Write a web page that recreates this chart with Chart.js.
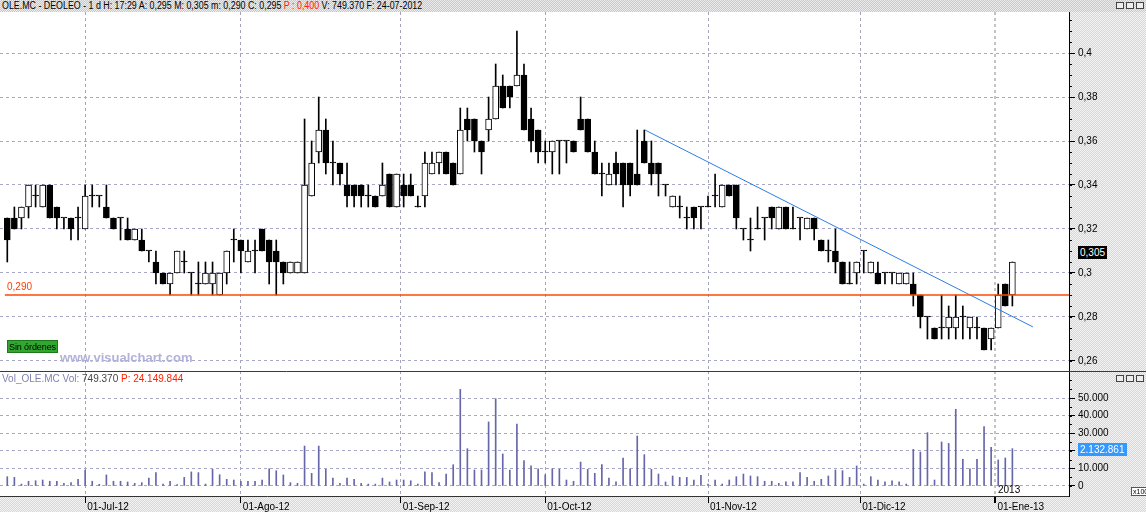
<!DOCTYPE html>
<html>
<head>
<meta charset="utf-8">
<script src="https://cdn.jsdelivr.net/npm/chart.js@4.4.1/dist/chart.umd.min.js"></script>
<style>
  body{margin:0;width:1146px;height:512px;overflow:hidden;position:relative;
    font-family:'Liberation Sans',Arial,sans-serif;font-size:10px;color:#000;
    background:repeating-conic-gradient(#d6d6d6 0 25%,#f4f4f4 0 50%) 0 0/2px 2px;}
  .abs{position:absolute;white-space:nowrap}
  #hdrbg{left:0;top:0;width:1146px;height:12px;
    background:repeating-conic-gradient(#c8c8c8 0 25%,#ececec 0 50%) 0 0/2px 2px;}
  #hdr{left:2px;top:0;height:12px;line-height:12px;transform:scaleX(0.885);transform-origin:0 0}
  .btns{display:flex;gap:2px}
  .btns span{display:block;width:8px;height:7px;border:1px solid #444;background:#eee;box-sizing:border-box}
  .tag{color:#fff;padding:0 2px;height:13px;line-height:13px}
</style>
</head>
<body>
<div id="hdrbg" class="abs"></div>
<div id="hdr" class="abs">OLE.MC - DEOLEO - 1 d H: 17:29 A: 0,295 M: 0,305 m: 0,290 C: 0,295 <span style="color:#ff2000">P : 0,400</span> V: 749.370 F: 24-07-2012</div>
<div class="abs btns" style="left:1116px;top:2px"><span></span><span></span><span></span></div>

<div class="abs" style="left:0;top:12px;width:1146px;height:359px"><canvas id="cPrice"></canvas></div>
<div class="abs" style="left:0;top:371px;width:1146px;height:141px"><canvas id="cVol"></canvas></div>

<div class="abs" style="left:7px;top:282px;color:#ff4000;line-height:10px">0,290</div>
<div class="abs" style="left:7px;top:340px;height:13px;line-height:12px;background:#30a830;border:1px solid #1c781c;box-sizing:border-box;padding:0 1px;font-size:9px;letter-spacing:-0.1px">Sin órdenes</div>
<div class="abs" style="left:60px;top:351px;font-size:13px;font-weight:bold;color:#b2b2da;line-height:13px">www.visualchart.com</div>
<div class="abs tag" style="left:1078px;top:246px;background:#000">0,305</div>

<div class="abs" style="left:2px;top:373px;line-height:11px"><span style="color:#8080b0">Vol_OLE.MC Vol:</span> <span style="color:#444">749.370</span> <span style="color:#ff2000">P: 24.149.844</span></div>
<div class="abs btns" style="left:1116px;top:375px"><span></span><span></span><span></span></div>
<div class="abs tag" style="left:1078px;top:443px;background:#3399ff">2.132.861</div>
<div class="abs" style="left:998px;top:485px;line-height:10px">2013</div>
<div class="abs" style="left:1131px;top:487px;font-size:7px;line-height:7px;border:1px solid #555;background:#fff;padding:0 1px">x100</div>

<script>
// --- data (daily candles, 15-Jun-12 .. 03-Jan-13) ---
const opens = [
  .325,.325,.325,.33,.335,.33,.34,.33,.325,.325,
  .325,.32,.335,.335,.33,.325,.325,.32,.315,.315,
  .31,.305,.30,.295,.30,.305,.30,.295,.295,.295,
  .29,.30,.315,.315,.305,.31,.32,.315,.31,.305,
  .30,.30,.30,.335,.355,.365,.35,.35,.34,.34,
  .34,.335,.335,.335,.345,.33,.34,.34,.33,.335,
  .345,.35,.355,.35,.345,.37,.37,.36,.365,.37,
  .385,.385,.385,.39,.37,.365,.355,.355,.36,.36,
  .36,.37,.37,.355,.345,.34,.35,.35,.35,.345,
  .36,.35,.35,.34,.33,.33,.325,.33,.33,.33,
  .335,.33,.34,.34,.32,.315,.32,.325,.33,.32,
  .33,.32,.325,.32,.325,.315,.31,.31,.305,.295,
  .30,.31,.30,.30,.30,.30,.295,.295,.295,.29,
  .28,.275,.275,.275,.275,.28,.275,.275,.275,.27,
  .275,.295,.29
];
const highs = [
  .325,.33,.33,.34,.34,.34,.34,.33,.325,.325,
  .33,.34,.34,.335,.34,.325,.325,.325,.32,.32,
  .31,.31,.30,.30,.31,.31,.30,.305,.305,.305,
  .30,.31,.32,.315,.315,.315,.32,.315,.315,.305,
  .305,.305,.37,.36,.38,.37,.36,.35,.35,.34,
  .34,.34,.335,.35,.345,.345,.345,.345,.335,.355,
  .355,.355,.355,.35,.375,.375,.37,.36,.38,.395,
  .39,.385,.41,.395,.375,.365,.36,.36,.36,.36,
  .36,.38,.37,.36,.35,.35,.355,.35,.35,.365,
  .365,.36,.35,.34,.335,.335,.33,.33,.33,.335,
  .345,.34,.34,.34,.32,.325,.33,.325,.33,.33,
  .33,.33,.325,.325,.325,.315,.315,.32,.305,.305,
  .305,.31,.305,.305,.30,.30,.30,.30,.30,.29,
  .28,.275,.29,.285,.29,.285,.28,.28,.275,.275,
  .295,.295,.305
];
const lows = [
  .305,.32,.32,.325,.33,.33,.325,.32,.32,.315,
  .315,.32,.33,.33,.325,.32,.315,.315,.315,.31,
  .305,.295,.295,.29,.30,.30,.29,.29,.295,.29,
  .29,.295,.305,.30,.305,.30,.31,.295,.29,.295,
  .30,.30,.30,.335,.35,.345,.34,.34,.33,.33,
  .33,.33,.33,.335,.33,.33,.33,.335,.33,.33,
  .345,.345,.345,.34,.345,.36,.355,.345,.36,.37,
  .375,.375,.385,.365,.355,.35,.35,.345,.345,.35,
  .355,.365,.355,.345,.335,.34,.34,.33,.335,.34,
  .35,.34,.335,.335,.33,.325,.32,.32,.32,.33,
  .33,.33,.335,.32,.315,.31,.32,.315,.32,.32,
  .32,.32,.315,.32,.315,.31,.305,.30,.295,.295,
  .295,.30,.30,.295,.295,.295,.295,.295,.285,.275,
  .27,.27,.27,.27,.27,.27,.27,.27,.265,.265,
  .275,.285,.285
];
const closes = [
  .315,.32,.33,.34,.335,.34,.325,.325,.325,.32,
  .325,.335,.335,.335,.325,.32,.325,.315,.32,.31,
  .31,.30,.295,.30,.31,.305,.30,.295,.30,.30,
  .30,.31,.315,.31,.31,.31,.31,.305,.305,.30,
  .305,.305,.34,.35,.365,.35,.35,.345,.335,.335,
  .335,.335,.33,.34,.33,.345,.335,.335,.33,.35,
  .35,.355,.345,.34,.365,.365,.36,.355,.37,.385,
  .375,.38,.39,.365,.36,.355,.355,.36,.36,.36,
  .355,.365,.355,.345,.345,.345,.345,.34,.34,.34,
  .35,.345,.345,.34,.335,.33,.325,.325,.33,.33,
  .335,.34,.335,.325,.32,.315,.32,.325,.325,.33,
  .32,.32,.325,.325,.32,.31,.31,.305,.295,.295,
  .305,.31,.305,.295,.30,.30,.30,.30,.29,.28,
  .28,.27,.275,.28,.28,.28,.28,.275,.265,.275,
  .29,.285,.305
];
const volumes = [
  5300,4900,1100,2700,3000,3400,2700,2700,1500,1900,
  3800,9100,2700,1000,6300,2700,2700,2300,1500,1900,
  4500,7600,1100,2700,800,4900,8000,7600,1100,9500,
  6400,3800,3400,2700,2700,2700,3400,9800,8700,6300,
  1900,1500,22700,7200,22700,9500,4500,1500,4500,3800,
  1500,1100,1100,4500,2300,3400,3400,3000,1100,8000,
  7600,1900,6800,12100,54900,21200,9100,9100,36400,49600,
  18200,9100,35200,14400,11400,9800,6400,9800,9500,3400,
  2700,13600,9500,7200,12100,4500,2300,15900,9800,28400,
  17800,9500,6800,2300,5700,4900,4900,3400,6100,1100,
  3400,1100,3400,5300,6800,5700,5300,2700,2700,1500,
  2300,2300,7600,4900,2700,3800,5700,9100,8700,4900,
  11400,1100,5300,3400,2300,3000,2300,1100,20800,19300,
  30300,3400,25000,24200,43600,15200,9800,15200,33700,22000,
  14800,15900,21200
];

// x axis: month starts, as candle positions
const monthPos    = [11, 33, 55.6, 76, 99, 120.5, 139.6];
const monthLabels = ['01-Jul-12','01-Ago-12','01-Sep-12','01-Oct-12','01-Nov-12','01-Dic-12','01-Ene-13'];

const priceTicks      = [0.26, 0.28, 0.30, 0.32, 0.34, 0.36, 0.38, 0.40];
const priceTickLabels = ['0,26','0,28','0,3','0,32','0,34','0,36','0,38','0,4'];
const volTicks      = [0, 10000, 20000, 30000, 40000, 50000];
const volTickLabels = ['0','10.000','20.000','30.000','40.000','50.000'];

const supportLevel = 0.29;
const trendLine = [{x:90.1, y:0.365}, {x:144.9, y:0.2755}];

// --- layout ---
const FONT = "'Liberation Sans', Arial, sans-serif";
Chart.defaults.font.family = FONT;
Chart.defaults.font.size = 10;
Chart.defaults.color = '#000';

const X_MIN = -1.03, X_MAX = 150, AXIS_W = 77;
const GRID = '#a8a8c8', VGRID = '#a4a4b8';
const idx = opens.map((_, i) => i);

const vGridColor = c => c.index === 6 ? '#c4c4c4' : VGRID;
const vGridWidth = c => c.index === 6 ? 2 : 1;

const panel = {
  id: 'panel',
  beforeDraw(chart) {
    const {ctx, chartArea: a} = chart;
    ctx.save();
    ctx.fillStyle = '#fff';
    ctx.fillRect(a.left, a.top, a.right - a.left, a.bottom - a.top);
    ctx.restore();
  },
  afterDraw(chart, args, o) {
    const {ctx, chartArea: a} = chart;
    const y = chart.scales.y;
    ctx.save();
    ctx.strokeStyle = '#000';
    ctx.lineWidth = 1;
    ctx.beginPath();
    for (let v = o.from; v <= o.to + 1e-9; v += o.step) {
      const py = Math.round(y.getPixelForValue(v)) + 0.5;
      if (py < a.top || py > a.bottom) continue;
      ctx.moveTo(a.right, py); ctx.lineTo(a.right + 3, py);
    }
    ctx.stroke();
    if (o.topLine) {
      ctx.strokeStyle = '#3a3a3a';
      ctx.beginPath(); ctx.moveTo(0, 0.5); ctx.lineTo(chart.width, 0.5); ctx.stroke();
    }
    ctx.restore();
  }
};

const xScale = (extra) => Object.assign({
  type:'linear', min:X_MIN, max:X_MAX, offset:false,
  afterBuildTicks: s => { s.ticks = monthPos.map(v => ({value:v})); }
}, extra);

const priceChart = new Chart(document.getElementById('cPrice'), {
  type: 'bar',
  data: {
    datasets: [
      { type:'line', data:[{x:-0.35, y:supportLevel}, {x:X_MAX, y:supportLevel}],
        borderColor:'#ff4a00', borderWidth:1.6, pointRadius:0, order:-2 },
      { type:'line', data:trendLine, borderColor:'#2f7de6', borderWidth:1, pointRadius:0, order:-1 },
      { data: idx.map(i => ({x:i, y:[Math.min(opens[i], closes[i]), Math.max(opens[i], closes[i])]})),
        backgroundColor: idx.map(i => closes[i] > opens[i] ? '#fff' : '#000'),
        borderColor:'#000', borderWidth:1, borderSkipped:false,
        barThickness:6, minBarLength:1, grouped:false, order:0 },
      { data: idx.map(i => ({x:i, y:[lows[i], highs[i]]})),
        backgroundColor:'#000', borderWidth:0, barThickness:1, grouped:false, order:1 }
    ]
  },
  options: {
    responsive:true, maintainAspectRatio:false, animation:false,
    layout:{padding:0},
    plugins:{ legend:{display:false}, tooltip:{enabled:false},
      panel:{from:0.26, to:0.415, step:0.005} },
    scales: {
      x: xScale({
        afterFit: s => { s.height = 0; s.paddingLeft = 0; s.paddingRight = 0; },
        ticks:{display:false},
        grid:{color:vGridColor, lineWidth:vGridWidth, drawTicks:false, offset:false},
        border:{display:false, dash:[3,3]} }),
      y: { position:'right', min:0.25545, max:0.41864,
        afterBuildTicks: s => { s.ticks = priceTicks.map(v => ({value:v})); },
        afterFit: s => { s.width = AXIS_W; s.paddingTop = 0; s.paddingBottom = 0; },
        ticks:{ callback:(v, i) => priceTickLabels[i], padding:3 },
        grid:{ color:GRID, tickLength:6, tickColor:'#000', tickBorderDash:[] },
        border:{ display:true, color:'#000', dash:[3,3] } }
    }
  },
  plugins:[panel]
});

const volChart = new Chart(document.getElementById('cVol'), {
  type: 'bar',
  data: {
    datasets: [{
      data: idx.map(i => ({x:i, y:volumes[i]})),
      backgroundColor:'#6666aa', barThickness:1, borderWidth:0
    }]
  },
  options: {
    responsive:true, maintainAspectRatio:false, animation:false,
    layout:{padding:0},
    plugins:{ legend:{display:false}, tooltip:{enabled:false},
      panel:{from:0, to:60000, step:5000, topLine:true} },
    scales: {
      x: xScale({
        afterFit: s => { s.height = 16; s.paddingLeft = 0; s.paddingRight = 0; },
        ticks:{ autoSkip:false, maxRotation:0, minRotation:0, align:'start',
          labelOffset:2, padding:-2, callback:(v, i) => monthLabels[i] },
        grid:{ color:vGridColor, lineWidth:vGridWidth, tickLength:7, tickColor:'#000', tickBorderDash:[], offset:false },
        border:{ display:true, color:'#333', dash:[3,3] } }),
      y: { position:'right', min:-5682, max:65341,
        afterBuildTicks: s => { s.ticks = volTicks.map(v => ({value:v})); },
        afterFit: s => { s.width = AXIS_W; s.paddingTop = 0; s.paddingBottom = 0; },
        ticks:{ callback:(v, i) => volTickLabels[i], padding:3 },
        grid:{ color:GRID, tickLength:6, tickColor:'#000', tickBorderDash:[] },
        border:{ display:true, color:'#000', dash:[3,3] } }
    }
  },
  plugins:[panel]
});
</script>
</body>
</html>
